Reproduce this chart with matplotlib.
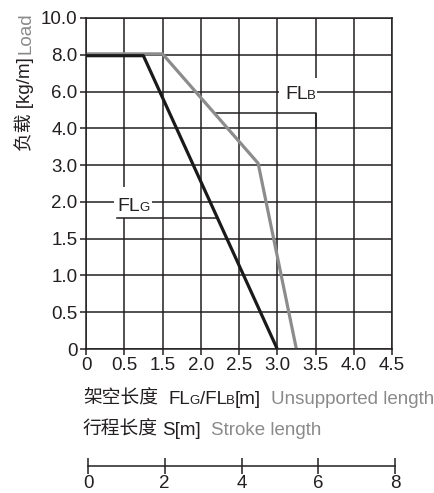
import matplotlib
matplotlib.use('Agg')
import matplotlib.pyplot as plt
from matplotlib.patches import Rectangle
import numpy as np

plt.rcParams['font.family'] = ['Liberation Sans', 'Noto Sans CJK SC']

# unsupported length axis (true metres) and the labels printed on it
X_TICKS = [0, 0.5, 1.0, 1.5, 2.0, 2.5, 3.0, 3.5, 4.0]
X_TICK_LABELS = ['0', '0.5', '1.5', '2.0', '2.5', '3.0', '3.5', '4.0', '4.5']

# load axis is not linear: each label gets one grid step
Y_TICK_VALUES = [0, 0.5, 1.0, 1.5, 2.0, 3.0, 4.0, 6.0, 8.0, 10.0]
Y_TICK_LABELS = ['0', '0.5', '1.0', '1.5', '2.0', '3.0', '4.0', '6.0', '8.0', '10.0']

# FLG curve (black)
FLG_LENGTH = [0, 0.75, 2.5]
FLG_LOAD = [7.95, 7.95, 0]

# FLB curve (grey)
FLB_LENGTH = [0, 1.0, 2.25, 2.75]
FLB_LOAD = [8.05, 8.05, 3.05, 0]

# stroke length scale
STROKE_TICKS = [0, 2, 4, 6, 8]

W, H = 434, 493
DARK = '#231f20'
GREY = '#8a8a8a'
LINE_DARK = '#1a1a1a'
LINE_GREY = '#8c8c8c'
FS = 13.5


def ypos(values):
    return np.interp(values, Y_TICK_VALUES, np.arange(len(Y_TICK_VALUES)))


def x_on_line(idx, lengths, loads):
    yp = ypos(loads)[::-1]
    return np.interp(idx, yp, np.array(lengths)[::-1])


fig = plt.figure(figsize=(W / 100, H / 100), dpi=100)
renderer = fig.canvas.get_renderer()


def text_run(x, y, pieces, rotation=0):
    # pieces: (text, size, color, gap after in px); x, y in px from top-left
    for s, size, color, gap in pieces:
        if rotation:
            t = fig.text(x / W, 1 - y / H, s, fontsize=size, color=color,
                         rotation=90, rotation_mode='anchor',
                         ha='left', va='baseline')
            ext = t.get_window_extent(renderer)
            y = H - ext.y1 - gap
        else:
            t = fig.text(x / W, 1 - y / H, s, fontsize=size, color=color,
                         ha='left', va='baseline')
            ext = t.get_window_extent(renderer)
            x = ext.x1 + gap


ax = fig.add_axes([86 / W, 1 - 349 / H, 306 / W, 331 / H])
ax.set_xlim(0, 4.0)
ax.set_ylim(0, len(Y_TICK_VALUES) - 1)
ax.set_xticks(X_TICKS)
ax.set_xticklabels(X_TICK_LABELS)
ax.set_yticks(np.arange(len(Y_TICK_VALUES)))
ax.set_yticklabels(Y_TICK_LABELS)
ax.tick_params(direction='out', length=4.5, width=1.1, color=DARK,
               labelsize=FS, labelcolor=DARK, pad=1.5)
ax.set_axisbelow(True)
ax.grid(True, color=DARK, linewidth=1.1)
for sp in ax.spines.values():
    sp.set_color(DARK)
    sp.set_linewidth(1.1)

# white patches where the labels break the grid
ax.add_patch(Rectangle((0.36, 3.57), 0.50, 0.83, facecolor='white',
                       edgecolor='none', zorder=1))
ax.add_patch(Rectangle((2.52, 6.43), 0.50, 0.94, facecolor='white',
                       edgecolor='none', zorder=1))

# leader lines
idx_g = 3.56
ax.plot([0.405, x_on_line(idx_g, FLG_LENGTH, FLG_LOAD)], [idx_g, idx_g],
        color=DARK, lw=1.1, zorder=1.5)
idx_b = 6.42
ax.plot([x_on_line(idx_b, FLB_LENGTH, FLB_LOAD), 3.0, 3.0],
        [idx_b, idx_b, 6.0], color=DARK, lw=1.1, zorder=1.5)

ax.plot(FLB_LENGTH, ypos(FLB_LOAD), color=LINE_GREY, lw=2.3, zorder=2,
        solid_capstyle='butt')
ax.plot(FLG_LENGTH, ypos(FLG_LOAD), color=LINE_DARK, lw=2.3, zorder=2,
        solid_capstyle='butt')

# stroke length scale
ax2 = fig.add_axes([88 / W, 1 - 466 / H, 307 / W, 0.0001])
ax2.set_xlim(0, 8)
ax2.set_ylim(0, 1)
ax2.set_xticks(STROKE_TICKS)
ax2.set_xticklabels([str(v) for v in STROKE_TICKS])
ax2.set_yticks([])
for k in ['top', 'left', 'right']:
    ax2.spines[k].set_visible(False)
ax2.spines['bottom'].set_color(DARK)
ax2.spines['bottom'].set_linewidth(1.1)
ax2.tick_params(axis='x', direction='inout', length=12, width=1.1,
                color=DARK, labelsize=FS, labelcolor=DARK, pad=0.5)
ax2.patch.set_visible(False)

# curve labels
text_run(117, 211, [('FL', 14, DARK, -0.5), ('G', 9.5, DARK, 0)])
text_run(285, 99, [('FL', 14, DARK, -0.5), ('B', 9.5, DARK, 0)])

# axis titles
text_run(30, 151, [('负载 [kg/m]', FS, DARK, 3), ('Load', FS, GREY, 0)],
         rotation=90)
text_run(83, 404, [('架空长度', FS, DARK, 10),
                   ('FL', FS, DARK, -0.5), ('G', 9.5, DARK, 0),
                   ('/FL', FS, DARK, -0.5), ('B', 9.5, DARK, 0),
                   ('[m]', FS, DARK, 10),
                   ('Unsupported length', FS, GREY, 0)])
text_run(83, 435, [('行程长度', FS, DARK, 4),
                   ('S[m]', FS, DARK, 10),
                   ('Stroke length', FS, GREY, 0)])

fig.savefig('out.png', dpi=100)
